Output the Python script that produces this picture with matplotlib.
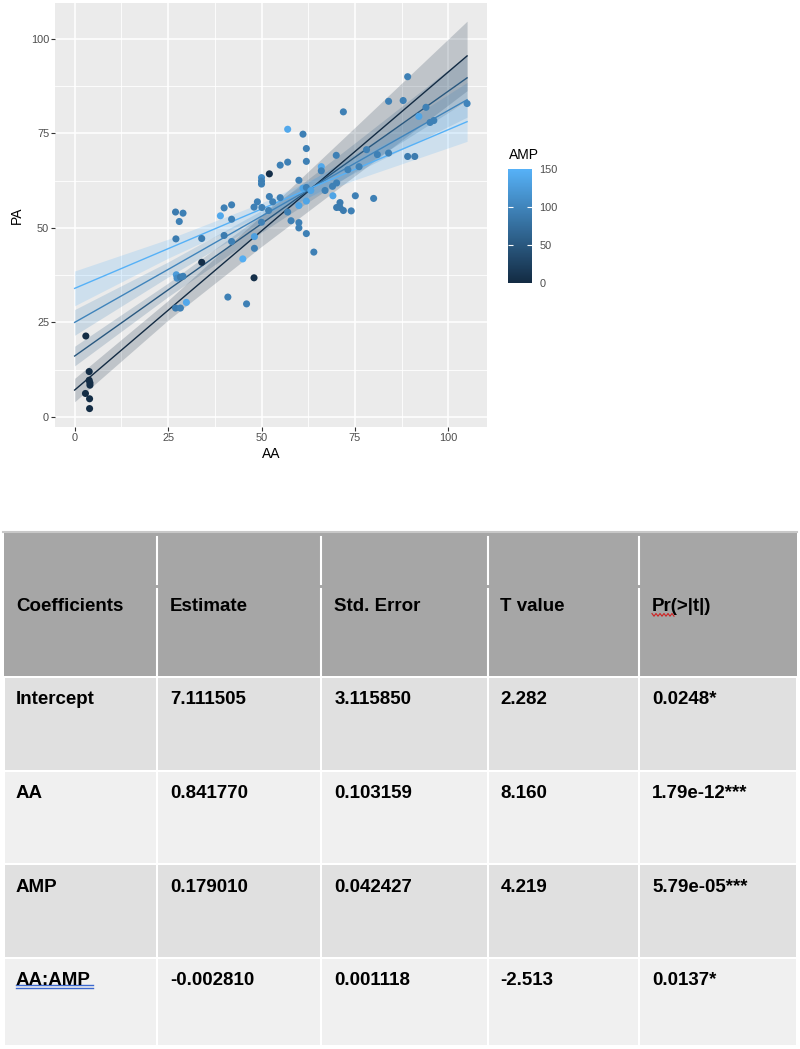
import numpy as np
import matplotlib
matplotlib.use('Agg')
import matplotlib.pyplot as plt
from matplotlib.colors import LinearSegmentedColormap, Normalize
from matplotlib.patches import Rectangle
import matplotlib.cm as cm

plt.rcParams['font.family'] = ['Liberation Sans', 'DejaVu Sans']

# scatter points (AA, PA, AMP)
aa = [3.0, 3.9, 3.9, 4.1, 4.1, 2.9, 4.0, 4.0,
      27.0, 29.0, 28.0, 27.1, 27.2, 27.4, 28.3, 29.0, 27.0, 28.3, 29.9,
      34.0, 34.0, 39.0, 40.0, 42.0, 42.0, 40.0, 42.0, 41.0, 45.0, 46.0, 48.1, 48.1, 48.0, 48.0, 48.9,
      50.0, 50.0, 50.0, 52.1, 50.1, 51.9, 52.1, 53.0, 55.0, 55.0, 57.0, 57.0, 57.0, 57.9, 60.0, 60.0, 60.0, 60.0, 50.0,
      61.1, 62.0, 62.0, 61.1, 62.0, 63.2, 62.0, 62.0, 64.0, 66.0, 66.0, 67.0, 69.0, 70.1, 69.1, 70.0, 71.9, 71.0,
      70.1, 71.0, 71.9, 74.0, 73.1, 76.1, 75.1, 78.1, 80.0, 81.0,
      84.0, 84.0, 87.9, 89.1, 89.1, 91.0, 92.1, 94.0, 95.1, 96.1, 105.0]
pa = [21.4, 12.0, 9.7, 9.0, 8.4, 6.2, 4.8, 2.2,
      54.2, 53.9, 51.7, 47.1, 37.6, 36.7, 37.0, 37.2, 28.8, 28.8, 30.3,
      47.2, 40.9, 53.2, 55.3, 56.1, 52.3, 48.0, 46.4, 31.7, 41.8, 29.9, 44.6, 47.7, 36.8, 55.5, 56.9,
      63.3, 62.4, 61.6, 64.3, 55.4, 54.6, 58.3, 56.9, 58.0, 66.6, 67.4, 76.1, 54.2, 51.9, 62.6, 55.9, 51.4, 50.0, 51.5,
      74.8, 71.0, 67.6, 60.5, 60.7, 59.9, 57.1, 48.5, 43.6, 66.2, 65.1, 59.9, 61.0, 61.9, 58.5, 69.2, 80.7, 56.7,
      55.4, 55.4, 54.6, 54.5, 65.4, 66.2, 58.5, 70.7, 57.8, 69.4,
      83.5, 69.8, 83.7, 90.0, 68.9, 68.9, 79.5, 81.9, 77.9, 78.4, 82.9]
amp = [2, 3, 2, 4, 3, 2, 3, 2,
       90, 95, 95, 90, 125, 110, 90, 95, 90, 95, 140,
       90, 5, 140, 95, 95, 95, 90, 95, 95, 145, 95, 95, 130, 5, 95, 95,
       110, 95, 95, 5, 95, 95, 95, 95, 95, 95, 95, 140, 95, 95, 95, 135, 95, 95, 95,
       95, 95, 95, 135, 95, 135, 135, 95, 95, 140, 95, 95, 95, 95, 135, 95, 95, 90,
       90, 90, 90, 95, 95, 95, 95, 95, 95, 95,
       95, 95, 95, 95, 90, 90, 135, 95, 95, 95, 100]

# fitted lines and band half-widths for AMP = 0, 50, 100, 150
amp_levels = [0, 50, 100, 150]
fit_x = [0, 25, 50, 75, 105]
fit_y = [[7.1, 28.2, 49.2, 70.2, 95.5],
         [16.1, 33.6, 51.1, 68.7, 89.7],
         [25.0, 39.0, 53.1, 67.1, 83.9],
         [34.0, 44.5, 55.0, 65.5, 78.1]]
band = [[3.1, 2.6, 4.1, 6.4, 9.2],
        [2.6, 1.8, 2.3, 3.8, 6.0],
        [3.4, 2.0, 1.5, 2.5, 4.6],
        [4.6, 2.5, 1.6, 2.8, 5.2]]

# coefficient table
headers = ["Coefficients", "Estimate", "Std. Error", "T value", "Pr(>|t|)"]
rows = [["Intercept", "7.111505", "3.115850", "2.282", "0.0248*"],
        ["AA", "0.841770", "0.103159", "8.160", "1.79e-12***"],
        ["AMP", "0.179010", "0.042427", "4.219", "5.79e-05***"],
        ["AA:AMP", "-0.002810", "0.001118", "-2.513", "0.0137*"]]

cmap = LinearSegmentedColormap.from_list('gg', ['#132B43', '#56B1F7'])
norm = Normalize(vmin=0, vmax=150)

W, H = 800, 1049
fig = plt.figure(figsize=(W / 100, H / 100), dpi=100)

# ---- table (drawn in pixel coordinates) ----
tax = fig.add_axes([0, 0, 1, 1])
tax.set_xlim(0, W)
tax.set_ylim(H, 0)
tax.axis('off')
tax.patch.set_visible(False)

col_edges = [4, 157, 321, 488, 638.5, 797]
row_edges = [533, 676.5, 771, 864, 957.5, 1046]
row_colors = ['#E0E0E0', '#F0F0F0', '#E0E0E0', '#F0F0F0']
text_x = [16, 170, 334.5, 500.5, 652]
font_kw = dict(fontsize=13.5, fontweight='bold', color='black', va='baseline', ha='left')

tax.plot([3, 797], [532, 532], color='#C8C8C8', lw=1.5)
tax.add_patch(Rectangle((col_edges[0], row_edges[0]), col_edges[-1] - col_edges[0],
                        row_edges[1] - row_edges[0] - 1, facecolor='#A6A6A6', edgecolor='none'))
for xe in col_edges[1:-1]:
    tax.plot([xe, xe], [537, 583.5], color='white', lw=1.5)
    tax.plot([xe, xe], [588.5, 675.5], color='white', lw=1.5)
for j, h in enumerate(headers):
    tax.text(text_x[j], 610.7, h, **font_kw)

for i, r in enumerate(rows):
    y0, y1 = row_edges[i + 1], row_edges[i + 2]
    for j in range(5):
        x0, x1 = col_edges[j], col_edges[j + 1]
        tax.add_patch(Rectangle((x0 + 1, y0 + 1), x1 - x0 - 2, y1 - y0 - 2,
                                facecolor=row_colors[i], edgecolor='none'))
        tax.text(text_x[j], y0 + 27.5, r[j], **font_kw)

# spell-check marks
zx = np.arange(652, 675, 2)
zy = np.where(np.arange(len(zx)) % 2 == 0, 613.5, 616.2)
tax.plot(zx, zy, color='#D02020', lw=0.8)
tax.plot([16.3, 93], [984.6, 984.6], color='#3C68D0', lw=1.0)
tax.plot([16.3, 93], [987.6, 987.6], color='#3C68D0', lw=1.0)

# ---- scatter panel ----
ax = fig.add_axes([55 / W, 1 - 427.3 / H, 431.7 / W, 424.3 / H])
ax.set_facecolor('#EBEBEB')
for s in ax.spines.values():
    s.set_visible(False)
ax.set_xlim(-5.25, 110.25)
ax.set_ylim(-2.75, 109.5)
ax.set_xticks([0, 25, 50, 75, 100])
ax.set_yticks([0, 25, 50, 75, 100])
ax.set_xticks([12.5, 37.5, 62.5, 87.5], minor=True)
ax.set_yticks([12.5, 37.5, 62.5, 87.5], minor=True)
ax.grid(True, which='major', color='white', lw=1.15)
ax.grid(True, which='minor', color='white', lw=0.6)
ax.set_axisbelow(True)
ax.tick_params(which='major', length=2.6, width=0.8, color='#333333',
               labelcolor='#4D4D4D', labelsize=7.9, pad=1.6)
ax.tick_params(which='minor', length=0)

for k, lvl in enumerate(amp_levels):
    col = cmap(norm(lvl))
    fy = np.array(fit_y[k])
    hw = np.array(band[k])
    ax.fill_between(fit_x, fy - hw, fy + hw, color=col, alpha=0.2, lw=0, zorder=2)
    ax.plot(fit_x, fy, color=col, lw=1.0, zorder=3)

ax.scatter(aa, pa, c=amp, cmap=cmap, norm=norm, s=26, linewidths=0, zorder=4)

ax.set_xlabel('AA', fontsize=10, color='black')
ax.set_ylabel('PA', fontsize=10, color='black')
ax.xaxis.set_label_coords(0.5, (427.3 - 454.3) / 424.3)
ax.xaxis.label.set_verticalalignment('center')
ax.yaxis.set_label_coords((17.3 - 55) / 431.7, 0.5)
ax.yaxis.label.set_verticalalignment('center')

# ---- colour bar ----
cax = fig.add_axes([508.3 / W, 1 - 282.7 / H, 23.4 / W, 113.4 / H])
cb = fig.colorbar(cm.ScalarMappable(norm=norm, cmap=cmap), cax=cax)
cb.outline.set_visible(False)
cb.set_ticks([0, 50, 100, 150])
cax.tick_params(length=0, labelsize=7.9, labelcolor='#4D4D4D', pad=5.5)
cax.hlines([50, 100], 0, 0.2, color='white', lw=0.8)
cax.hlines([50, 100], 0.8, 1, color='white', lw=0.8)
fig.text(509.3 / W, 1 - 155 / H, 'AMP', fontsize=10, ha='left', va='center')

fig.savefig('out.png', dpi=100)
